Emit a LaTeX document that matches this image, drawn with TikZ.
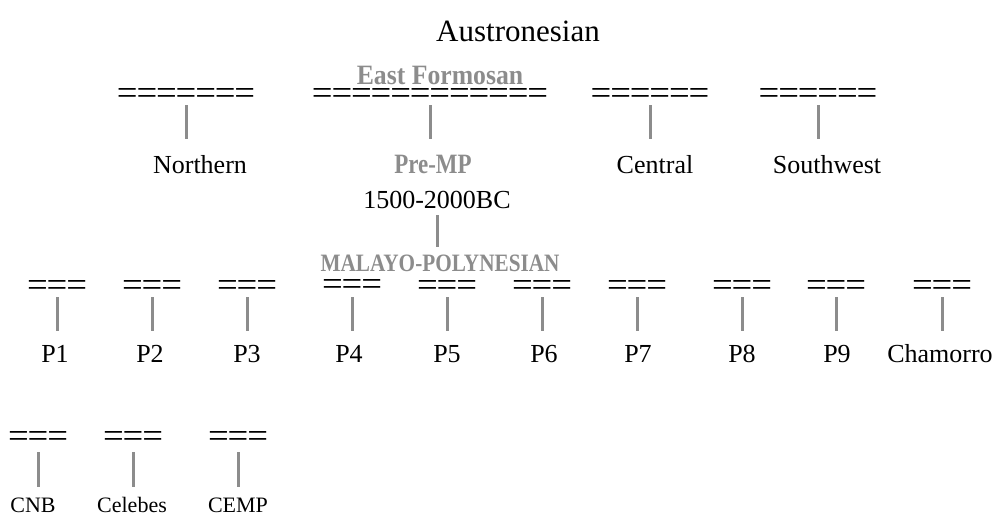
\documentclass[tikz,border=0pt]{standalone}
\usepackage{fontspec}
\setmainfont{Liberation Serif}
\newfontfamily\rulefont[LetterSpace=-3.1]{Liberation Serif}
\usetikzlibrary{positioning}
\definecolor{branchgray}{HTML}{8C8C8C}

\begin{document}
\begin{tikzpicture}[x=1pt,y=1pt, every node/.style={inner sep=0pt,outer sep=0pt,anchor=base},
    title/.style={font=\fontsize{31}{36}\selectfont},
    lang/.style={font=\fontsize{26}{30}\selectfont},
    small/.style={font=\fontsize{22}{26}\selectfont},
    group/.style={font=\bfseries\fontsize{28}{32}\selectfont,text=branchgray,xscale=0.82,transform shape},
    rule/.style={font=\rulefont\fontsize{35}{40}\selectfont,xscale=1.05,transform shape},
    bar/.style={draw=branchgray,line width=3pt} ]
    \useasboundingbox (0,0) rectangle (999,-515);

    \node[title] (austronesian) at (518,-41) {Austronesian};

    % first split
    \node[rule] (northerneq) at (186,-104.5) {=======};
    \node[rule] (eastformosaneq) at (430,-104.5) {============};
    \node[rule] (centraleq) at (650,-104.5) {======};
    \node[rule] (southwesteq) at (818,-104.5) {======};
    \node[group,xscale=1.12] (eastformosan) at (440,-84) {East Formosan};

    \node[lang] (northern) at (200,-173) {Northern};
    \node[group] (premp) at (433,-173) {Pre-MP};
    \node[lang] (central) at (655,-173) {Central};
    \node[lang] (southwest) at (827,-173) {Southwest};

    \draw[bar,shorten <=0.5pt,shorten >=34pt] (northerneq.base) -- (northerneq.base |- northern.base);
    \draw[bar,shorten <=0.5pt,shorten >=34pt] (eastformosaneq.base) -- (eastformosaneq.base |- premp.base);
    \draw[bar,shorten <=0.5pt,shorten >=34pt] (centraleq.base) -- (centraleq.base |- central.base);
    \draw[bar,shorten <=0.5pt,shorten >=34pt] (southwesteq.base) -- (southwesteq.base |- southwest.base);

    \node[lang] (premptime) at (437,-208) {1500-2000BC};
    \node[group,font=\bfseries\fontsize{25}{30}\selectfont,xscale=1.035] (malayopoly) at (440,-271) {MALAYO-POLYNESIAN};
    \draw[bar,shorten <=7pt,shorten >=24pt] (premptime.base) -- (premptime.base |- malayopoly.base);

    % malayo-polynesian branches
    \node[rule] (poneeq) at (57,-296.5) {===};
    \node[rule] (ptwoeq) at (152,-296.5) {===};
    \node[rule] (pthreeeq) at (247,-296.5) {===};
    \node[rule] (pfoureq) at (352,-295) {===};
    \node[rule] (pfiveeq) at (447,-296.5) {===};
    \node[rule] (psixeq) at (542,-296.5) {===};
    \node[rule] (pseveneq) at (637,-296.5) {===};
    \node[rule] (peighteq) at (742,-296.5) {===};
    \node[rule] (pnineeq) at (836,-296.5) {===};
    \node[rule] (chamorroeq) at (942,-296.5) {===};

    \node[lang] (pone) at (55,-362) {P1};
    \node[lang] (ptwo) at (150,-362) {P2};
    \node[lang] (pthree) at (247,-362) {P3};
    \node[lang] (pfour) at (349,-362) {P4};
    \node[lang] (pfive) at (447,-362) {P5};
    \node[lang] (psix) at (544,-362) {P6};
    \node[lang] (pseven) at (638,-362) {P7};
    \node[lang] (peight) at (742,-362) {P8};
    \node[lang] (pnine) at (837,-362) {P9};
    \node[lang] (chamorro) at (940,-362) {Chamorro};

    \draw[bar,shorten <=0.5pt,shorten >=31pt] (poneeq.base) -- (poneeq.base |- pone.base);
    \draw[bar,shorten <=0.5pt,shorten >=31pt] (ptwoeq.base) -- (ptwoeq.base |- ptwo.base);
    \draw[bar,shorten <=0.5pt,shorten >=31pt] (pthreeeq.base) -- (pthreeeq.base |- pthree.base);
    \draw[bar,shorten <=2pt,shorten >=31pt] (pfoureq.base) -- (pfoureq.base |- pfour.base);
    \draw[bar,shorten <=0.5pt,shorten >=31pt] (pfiveeq.base) -- (pfiveeq.base |- pfive.base);
    \draw[bar,shorten <=0.5pt,shorten >=31pt] (psixeq.base) -- (psixeq.base |- psix.base);
    \draw[bar,shorten <=0.5pt,shorten >=31pt] (pseveneq.base) -- (pseveneq.base |- pseven.base);
    \draw[bar,shorten <=0.5pt,shorten >=31pt] (peighteq.base) -- (peighteq.base |- peight.base);
    \draw[bar,shorten <=0.5pt,shorten >=31pt] (pnineeq.base) -- (pnineeq.base |- pnine.base);
    \draw[bar,shorten <=0.5pt,shorten >=31pt] (chamorroeq.base) -- (chamorroeq.base |- chamorro.base);

    % lower row
    \node[rule] (cnbeq) at (38,-447) {===};
    \node[rule] (celebeseq) at (133,-447) {===};
    \node[rule] (cempeq) at (238,-447) {===};

    \node[small] (cnb) at (33,-512) {CNB};
    \node[small] (celebes) at (132,-512) {Celebes};
    \node[small] (cemp) at (238,-512) {CEMP};

    \draw[bar,shorten <=5pt,shorten >=25pt] (cnbeq.base) -- (cnbeq.base |- cnb.base);
    \draw[bar,shorten <=5pt,shorten >=25pt] (celebeseq.base) -- (celebeseq.base |- celebes.base);
    \draw[bar,shorten <=5pt,shorten >=25pt] (cempeq.base) -- (cempeq.base |- cemp.base);

\end{tikzpicture}
\end{document}
